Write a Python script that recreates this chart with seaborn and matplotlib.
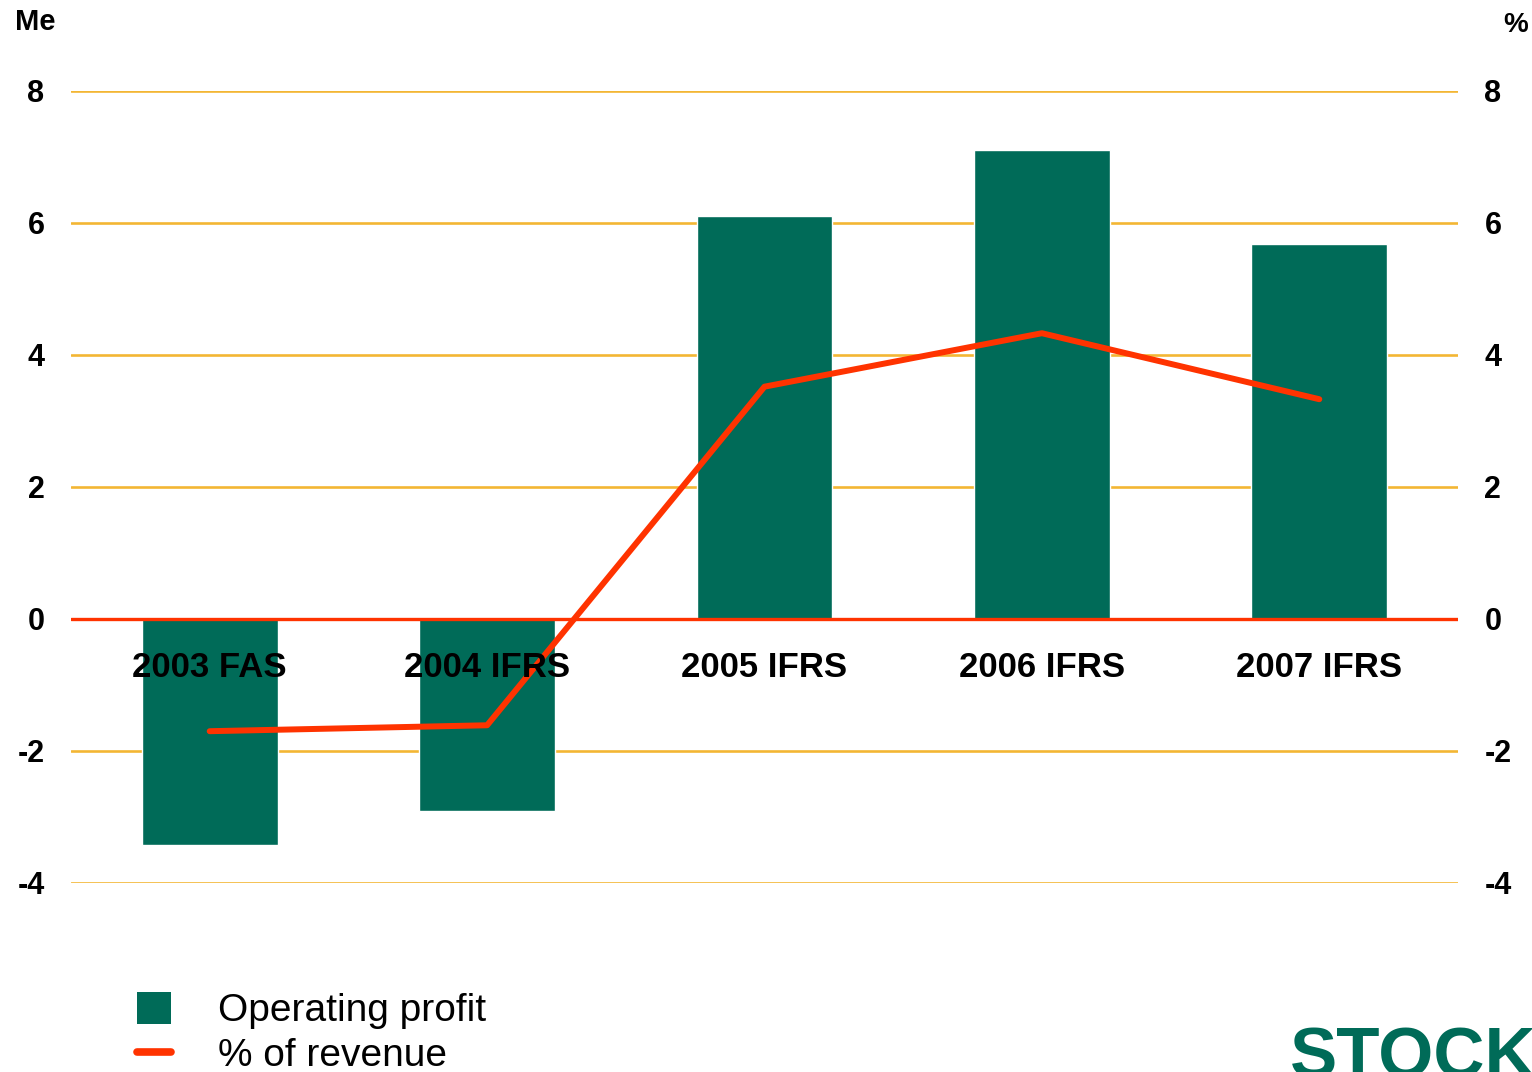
import matplotlib
matplotlib.use("Agg")
import matplotlib.pyplot as plt
import seaborn as sns
import pandas as pd
from matplotlib.patches import Patch
from matplotlib.lines import Line2D

# data
years = ["2003 FAS", "2004 IFRS", "2005 IFRS", "2006 IFRS", "2007 IFRS"]
operating_profit = [-3.42, -2.91, 6.11, 7.11, 5.68]   # Me
pct_of_revenue = [-1.70, -1.61, 3.52, 4.33, 3.33]      # %
y_ticks = [-4, -2, 0, 2, 4, 6, 8]

green = "#006B58"
red = "#FF3300"
gold = "#F3B634"

sns.set_style("white")
plt.rcParams["font.family"] = ["Liberation Sans", "DejaVu Sans"]
plt.rcParams["axes.unicode_minus"] = False
plt.rcParams["text.color"] = "black"

df = pd.DataFrame({"year": years, "profit": operating_profit, "pct": pct_of_revenue})

fig = plt.figure(figsize=(15.32, 10.72), dpi=100)
ax = fig.add_axes([71 / 1532, 1 - 883 / 1072, (1458 - 71) / 1532, (883 - 91) / 1072])

# gridlines (behind the bars)
for t in y_ticks:
    if t != 0:
        ax.axhline(t, color=gold, lw=1.9, zorder=0)

sns.barplot(data=df, x="year", y="profit", color=green, width=0.49,
            saturation=1, ax=ax, zorder=2)
ax.axhline(0, color=red, lw=2.4, zorder=3)

ax2 = ax.twinx()
sns.pointplot(data=df, x="year", y="pct", color=red, markers="", errorbar=None,
              ax=ax2, lw=4.3)
for ln in ax2.lines:
    ln.set_linewidth(4.3)

for a in (ax, ax2):
    a.set_ylim(-4, 8)
    a.set_xlim(-0.5, 4.5)
    a.set_yticks(y_ticks)
    a.set_xticks([])
    a.set_xlabel("")
    a.set_ylabel("")
    for s in a.spines.values():
        s.set_visible(False)
    a.tick_params(axis="y", length=0, labelsize=22, labelcolor="black")
    for lab in a.get_yticklabels():
        lab.set_fontweight("bold")
ax.tick_params(axis="y", pad=19)
ax2.tick_params(axis="y", pad=19)
ax.set_facecolor("none")
ax2.set_facecolor("none")

# category labels inside the plot area
for i, yr in enumerate(years):
    ax2.text(i, -0.73, yr, ha="center", va="center", fontsize=25,
             fontweight="bold", color="black", zorder=5)

# axis unit labels
fig.text(15 / 1532, 1 - 22 / 1072, "Me", ha="left", va="center",
         fontsize=21, fontweight="bold")
fig.text(1528 / 1532, 1 - 25 / 1072, "%", ha="right", va="center",
         fontsize=20, fontweight="bold")

# legend
handles = [Patch(facecolor=green, edgecolor="none"),
           Line2D([0], [0], color=red, lw=5.5)]
fig.legend(handles, ["Operating profit", "% of revenue"], loc="upper left",
           bbox_to_anchor=(137 / 1532, 1 - 992 / 1072), frameon=False,
           fontsize=28, handlelength=0.87, handleheight=0.87,
           handletextpad=1.2, labelspacing=0.2, borderpad=0, borderaxespad=0,
           labelcolor="black")

# logo, cut off by the page edge as in the original slide
fig.text(1290 / 1532, 1 - 1077 / 1072, "STOCK", ha="left", va="baseline",
         fontsize=51, fontweight="heavy", color=green)

fig.savefig("out.png", dpi=100)
